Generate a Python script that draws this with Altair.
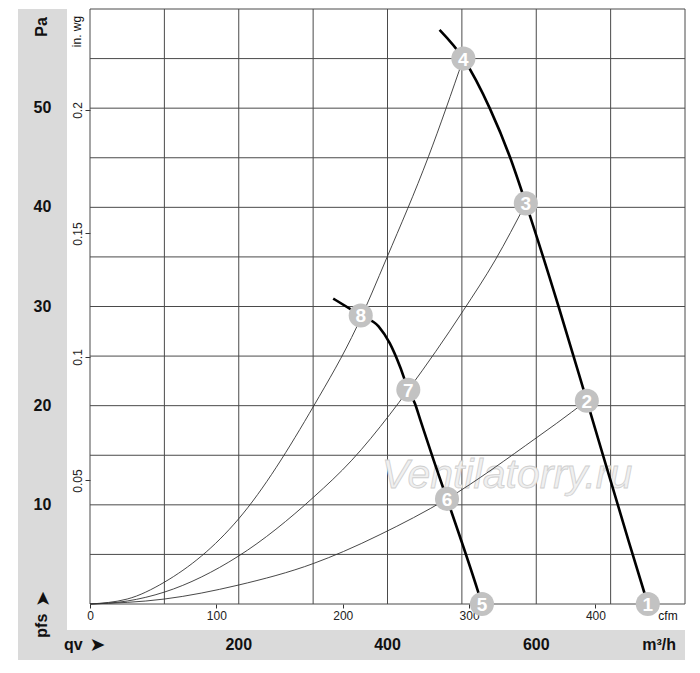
import altair as alt
import pandas as pd

FONT = "Liberation Sans"
CFM = 1.699      # m³/h per cfm
INWG = 249.09    # Pa per in. wg

# -----------------------------
# DATA (m³/h vs Pa)
# -----------------------------
fan_hi_q = [470, 502, 538, 565, 586, 630, 668, 724, 750]
fan_hi_p = [57.9, 55.0, 49.9, 45.0, 40.4, 30.0, 20.5, 6.4, 0.0]
fan_lo_q = [327, 364, 388, 403, 417, 428, 437, 444, 462, 480, 522, 527]
fan_lo_p = [30.8, 29.1, 28.0, 26.3, 23.9, 21.6, 20.2, 18.6, 14.5, 10.6, 1.2, 0.0]

sys_a_q = [0, 50, 100, 200, 301, 359, 399, 455, 502]
sys_a_p = [0, 0.5, 2.2, 8.6, 20.0, 28.0, 34.9, 45.1, 55.0]
sys_b_q = [0, 50, 100, 199, 301, 352, 403, 428, 502, 545, 586]
sys_b_p = [0, 0.3, 1.2, 4.8, 10.8, 14.5, 19.1, 21.6, 29.6, 34.7, 40.4]
sys_c_q = [0, 100, 199, 301, 341, 390, 480, 601, 627, 668]
sys_c_p = [0, 0.5, 1.9, 4.1, 5.3, 7.0, 10.6, 16.8, 18.2, 20.5]

point_id = ["1", "2", "3", "4", "5", "6", "7", "8"]
point_q = [750, 668, 586, 502, 527, 480, 428, 364]
point_p = [0.0, 20.5, 40.4, 55.0, 0.0, 10.6, 21.6, 29.1]

grid_q = [0, 100, 200, 300, 400, 500, 600, 700, 800]
grid_p = [0, 5, 10, 15, 20, 25, 30, 35, 40, 45, 50, 55, 60]
pa_labels = [10, 20, 30, 40, 50]
m3h_labels = [200, 400, 600]
cfm_ticks = [0, 100, 200, 300, 400]
inwg_ticks = [0.05, 0.1, 0.15, 0.2]

# -----------------------------
# SCALES / AXES
# -----------------------------
x_scale = alt.Scale(domain=[0, 800], nice=False, zero=False)
y_scale = alt.Scale(domain=[0, 60], nice=False, zero=False)

x_axis = alt.Axis(
    values=[c * CFM for c in cfm_ticks],
    labelExpr="format(datum.value / 1.699, '.0f')",
    grid=False, domain=False, tickSize=4, tickColor="#333",
    labelFont=FONT, labelFontSize=12, labelColor="#222", labelPadding=2,
    labelFlush=False, labelOverlap=False, title=None,
)
y_axis = alt.Axis(
    values=[w * INWG for w in inwg_ticks],
    labelExpr="format(datum.value / 249.09, '.2~f')",
    labelAngle=270, labelAlign="center", labelBaseline="alphabetic",
    grid=False, domain=False, tickSize=5, tickColor="#333",
    labelFont=FONT, labelFontSize=12, labelColor="#222", labelPadding=4,
    labelFlush=False, labelOverlap=False, title=None,
)


def X(f):
    return alt.X(f, scale=x_scale, axis=x_axis)


def Y(f):
    return alt.Y(f, scale=y_scale, axis=y_axis)


one = pd.DataFrame({"k": [0]})

# -----------------------------
# BACKGROUND BANDS
# -----------------------------
band_left = alt.Chart(one).mark_rect(color="#dadada").encode(
    x=alt.value(-72), x2=alt.value(-23), y=alt.value(0), y2=alt.value(621)
)
band_bottom = alt.Chart(one).mark_rect(color="#dadada").encode(
    x=alt.value(-72), x2=alt.value(595), y=alt.value(621), y2=alt.value(651)
)

# -----------------------------
# GRID
# -----------------------------
vgrid = alt.Chart(pd.DataFrame({"q": grid_q})).mark_rule(
    color="#4a4a4a", strokeWidth=1
).encode(x=X("q:Q"))
hgrid = alt.Chart(pd.DataFrame({"p": grid_p})).mark_rule(
    color="#4a4a4a", strokeWidth=1
).encode(y=Y("p:Q"))

watermark = alt.Chart(one).mark_text(
    text="Ventilatorry.ru", font=FONT, fontSize=41, fontStyle="italic",
    fill="#f0f0f0", stroke="#cfcfcf", strokeWidth=0.8,
    align="center", baseline="alphabetic",
).encode(x=alt.value(417), y=alt.value(479))

# -----------------------------
# CURVES
# -----------------------------
sys_df = pd.concat([
    pd.DataFrame({"q": sys_a_q, "p": sys_a_p, "c": "a"}),
    pd.DataFrame({"q": sys_b_q, "p": sys_b_p, "c": "b"}),
    pd.DataFrame({"q": sys_c_q, "p": sys_c_p, "c": "c"}),
])
fan_df = pd.concat([
    pd.DataFrame({"q": fan_hi_q, "p": fan_hi_p, "c": "hi"}),
    pd.DataFrame({"q": fan_lo_q, "p": fan_lo_p, "c": "lo"}),
])

sys_lines = alt.Chart(sys_df).mark_line(
    color="#333", strokeWidth=0.9, interpolate="monotone"
).encode(x=X("q:Q"), y=Y("p:Q"), detail="c:N")
fan_lines = alt.Chart(fan_df).mark_line(
    color="#000", strokeWidth=2.6, interpolate="monotone"
).encode(x=X("q:Q"), y=Y("p:Q"), detail="c:N")

pts = pd.DataFrame({"id": point_id, "q": point_q, "p": point_p})
markers = alt.Chart(pts).mark_point(
    shape="circle", filled=True, size=580, color="#c2c2c2", opacity=1
).encode(x=X("q:Q"), y=Y("p:Q"))
marker_text = alt.Chart(pts).mark_text(
    font=FONT, fontSize=19, fontWeight="bold", color="white",
    align="center", baseline="middle", dy=1,
).encode(x=X("q:Q"), y=Y("p:Q"), text="id:N")

# -----------------------------
# LABELS
# -----------------------------
pa_text = alt.Chart(pd.DataFrame({"p": pa_labels})).mark_text(
    font=FONT, fontSize=16, fontWeight="bold", color="#111",
    align="center", baseline="middle",
).encode(x=alt.value(-47.5), y=Y("p:Q"), text="p:Q")

m3h_text = alt.Chart(pd.DataFrame({"q": m3h_labels})).mark_text(
    font=FONT, fontSize=16, fontWeight="bold", color="#111",
    align="center", baseline="middle",
).encode(x=X("q:Q"), y=alt.value(636), text="q:Q")


def label(txt, x, y, size=16, bold=True, angle=0, align="center",
          baseline="middle", font=FONT):
    return alt.Chart(one).mark_text(
        text=txt, font=font, fontSize=size,
        fontWeight="bold" if bold else "normal", color="#111",
        angle=angle, align=align, baseline=baseline,
    ).encode(x=alt.value(x), y=alt.value(y))


labels = [
    label("Pa", -43, 18, angle=270, baseline="alphabetic"),
    label("in. wg", -9, 22.5, size=12, bold=False, angle=270, baseline="alphabetic"),
    label("pfs", -43, 616.7, angle=270, baseline="alphabetic"),
    label("➤", -47.5, 589.7, size=19, angle=270, font="DejaVu Sans"),
    label("qv", -16.7, 636),
    label("➤", 7.5, 636, size=19, font="DejaVu Sans"),
    label("m³/h", 586, 636, align="right"),
    label("cfm", 578, 607, size=12, bold=False),
]

chart = alt.layer(
    band_left, band_bottom, vgrid, hgrid, watermark,
    sys_lines, fan_lines, markers, marker_text,
    pa_text, m3h_text, *labels,
).properties(
    width=595, height=595,
    padding={"left": 82, "top": 1, "right": 7, "bottom": 61},
    autosize=alt.AutoSizeParams(type="none"),
).configure_view(stroke=None)

chart.save("out.html", embed_options={"renderer": "svg", "actions": False})
